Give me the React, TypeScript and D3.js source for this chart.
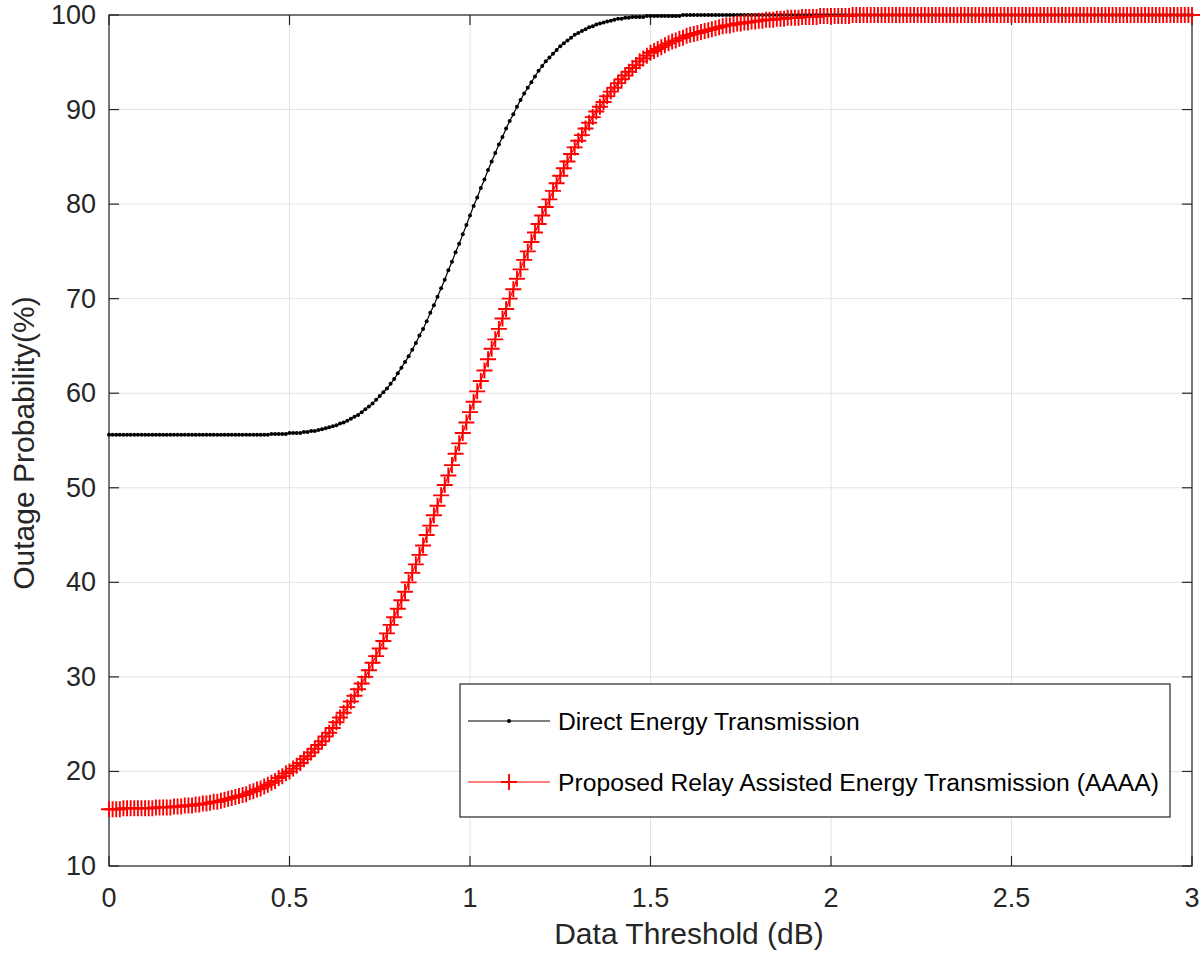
import React from "react";
import * as d3 from "d3";

// Data threshold (dB) sampled every 0.01 from 0 to 3
const X_START = 0;
const X_END = 3;
const X_STEP = 0.01;

const xTicks = [0, 0.5, 1, 1.5, 2, 2.5, 3];
const xTickLabels = ["0", "0.5", "1", "1.5", "2", "2.5", "3"];
const yTicks = [10, 20, 30, 40, 50, 60, 70, 80, 90, 100];
const yTickLabels = ["10", "20", "30", "40", "50", "60", "70", "80", "90", "100"];

const seriesNames = [
  "Direct Energy Transmission",
  "Proposed Relay Assisted Energy Transmission (AAAA)",
];

// Direct Energy Transmission, outage probability (%)
const directValues = [
  55.6, 55.6, 55.6, 55.6, 55.6, 55.6, 55.6, 55.6, 55.6, 55.6,
  55.6, 55.6, 55.6, 55.6, 55.6, 55.6, 55.6, 55.6, 55.6, 55.6,
  55.6, 55.6, 55.6, 55.6, 55.6, 55.6, 55.6, 55.6, 55.6, 55.6,
  55.6, 55.6, 55.6, 55.6, 55.6, 55.6, 55.6, 55.6, 55.6, 55.6,
  55.6, 55.6, 55.6, 55.6, 55.6, 55.7, 55.7, 55.7, 55.7, 55.7,
  55.8, 55.8, 55.8, 55.8, 55.9, 55.9, 56.0, 56.0, 56.1, 56.2,
  56.3, 56.4, 56.5, 56.6, 56.8, 56.9, 57.1, 57.3, 57.5, 57.7,
  58.0, 58.3, 58.6, 58.9, 59.3, 59.7, 60.1, 60.5, 61.0, 61.5,
  62.1, 62.7, 63.3, 63.9, 64.6, 65.3, 66.1, 66.8, 67.6, 68.5,
  69.3, 70.2, 71.1, 72.0, 73.0, 73.9, 74.9, 75.8, 76.8, 77.8,
  78.8, 79.8, 80.7, 81.7, 82.6, 83.6, 84.5, 85.4, 86.3, 87.1,
  88.0, 88.8, 89.5, 90.3, 91.0, 91.7, 92.3, 92.9, 93.5, 94.1,
  94.6, 95.1, 95.5, 95.9, 96.3, 96.7, 97.0, 97.3, 97.6, 97.9,
  98.1, 98.3, 98.5, 98.7, 98.8, 99.0, 99.1, 99.2, 99.3, 99.4,
  99.5, 99.6, 99.6, 99.7, 99.7, 99.8, 99.8, 99.8, 99.8, 99.9,
  99.9, 99.9, 99.9, 99.9, 99.9, 99.9, 99.9, 99.9, 99.9, 100,
  100, 100, 100, 100, 100, 100, 100, 100, 100, 100,
  100, 100, 100, 100, 100, 100, 100, 100, 100, 100,
  100, 100, 100, 100, 100, 100, 100, 100, 100, 100,
  100, 100, 100, 100, 100, 100, 100, 100, 100, 100,
  100, 100, 100, 100, 100, 100, 100, 100, 100, 100,
  100, 100, 100, 100, 100, 100, 100, 100, 100, 100,
  100, 100, 100, 100, 100, 100, 100, 100, 100, 100,
  100, 100, 100, 100, 100, 100, 100, 100, 100, 100,
  100, 100, 100, 100, 100, 100, 100, 100, 100, 100,
  100, 100, 100, 100, 100, 100, 100, 100, 100, 100,
  100, 100, 100, 100, 100, 100, 100, 100, 100, 100,
  100, 100, 100, 100, 100, 100, 100, 100, 100, 100,
  100, 100, 100, 100, 100, 100, 100, 100, 100, 100,
  100, 100, 100, 100, 100, 100, 100, 100, 100, 100,
  100,
];

// Proposed Relay Assisted Energy Transmission (AAAA), outage probability (%)
const relayValues = [
  16.0, 16.0, 16.0, 16.0, 16.1, 16.1, 16.1, 16.1, 16.1, 16.1,
  16.1, 16.1, 16.1, 16.2, 16.2, 16.2, 16.2, 16.2, 16.3, 16.3,
  16.3, 16.4, 16.4, 16.4, 16.5, 16.5, 16.6, 16.6, 16.7, 16.8,
  16.8, 16.9, 17.0, 17.1, 17.2, 17.3, 17.4, 17.5, 17.6, 17.8,
  17.9, 18.1, 18.2, 18.4, 18.6, 18.8, 19.0, 19.3, 19.5, 19.8,
  20.0, 20.3, 20.6, 20.9, 21.3, 21.6, 22.0, 22.4, 22.8, 23.2,
  23.7, 24.1, 24.6, 25.2, 25.7, 26.2, 26.8, 27.4, 28.0, 28.7,
  29.3, 30.0, 30.7, 31.5, 32.2, 33.0, 33.8, 34.6, 35.5, 36.3,
  37.2, 38.1, 39.0, 40.0, 41.0, 41.9, 42.9, 43.9, 45.0, 46.0,
  47.1, 48.1, 49.2, 50.3, 51.3, 52.4, 53.6, 54.7, 55.8, 56.9,
  58.0, 59.1, 60.2, 61.3, 62.4, 63.6, 64.7, 65.7, 66.8, 67.9,
  68.9, 70.0, 71.0, 72.1, 73.1, 74.1, 75.0, 76.0, 77.0, 77.9,
  78.8, 79.7, 80.5, 81.4, 82.2, 83.0, 83.8, 84.5, 85.3, 86.0,
  86.7, 87.3, 88.0, 88.6, 89.2, 89.8, 90.3, 90.8, 91.4, 91.9,
  92.3, 92.8, 93.2, 93.6, 94.0, 94.4, 94.7, 95.1, 95.4, 95.7,
  96.0, 96.2, 96.4, 96.6, 96.8, 97.0, 97.2, 97.3, 97.5, 97.6,
  97.8, 97.9, 98.0, 98.1, 98.2, 98.3, 98.4, 98.5, 98.6, 98.7,
  98.8, 98.9, 98.9, 99.0, 99.1, 99.1, 99.2, 99.2, 99.3, 99.3,
  99.4, 99.4, 99.5, 99.5, 99.5, 99.6, 99.6, 99.6, 99.7, 99.7,
  99.7, 99.7, 99.8, 99.8, 99.8, 99.8, 99.8, 99.9, 99.9, 99.9,
  99.9, 99.9, 99.9, 99.9, 99.9, 99.9, 100, 100, 100, 100,
  100, 100, 100, 100, 100, 100, 100, 100, 100, 100,
  100, 100, 100, 100, 100, 100, 100, 100, 100, 100,
  100, 100, 100, 100, 100, 100, 100, 100, 100, 100,
  100, 100, 100, 100, 100, 100, 100, 100, 100, 100,
  100, 100, 100, 100, 100, 100, 100, 100, 100, 100,
  100, 100, 100, 100, 100, 100, 100, 100, 100, 100,
  100, 100, 100, 100, 100, 100, 100, 100, 100, 100,
  100, 100, 100, 100, 100, 100, 100, 100, 100, 100,
  100, 100, 100, 100, 100, 100, 100, 100, 100, 100,
  100,
];

const W = 1202;
const H = 953;
const M = { left: 109, top: 15, right: 1192, bottom: 866 };
const FONT = "'Liberation Sans', Arial, Helvetica, sans-serif";
const AXIS = "#262626";
const GRID = "#e3e3e3";

export default function App() {
  const thresholds = d3.range(0, directValues.length).map((i) => +(X_START + i * X_STEP).toFixed(2));
  const x = d3.scaleLinear().domain([X_START, X_END]).range([M.left, M.right]);
  const y = d3.scaleLinear().domain([10, 100]).range([M.bottom, M.top]);
  const line = d3
    .line<number>()
    .x((_, i) => x(thresholds[i]))
    .y((d) => y(d));

  const tickLen = 10;
  const plusR = 8;

  return (
    <svg
      width={W}
      height={H}
      style={{ position: "absolute", left: 0, top: 0, background: "#fff" }}
      fontFamily={FONT}
    >
      <rect x={0} y={0} width={W} height={H} fill="#fff" />
      {/* grid */}
      <g stroke={GRID} strokeWidth={1}>
        {xTicks.map((t) => (
          <line key={"gx" + t} x1={x(t)} x2={x(t)} y1={M.top} y2={M.bottom} />
        ))}
        {yTicks.map((t) => (
          <line key={"gy" + t} x1={M.left} x2={M.right} y1={y(t)} y2={y(t)} />
        ))}
      </g>
      {/* axes box and ticks */}
      <g stroke={AXIS} strokeWidth={1.2} fill="none">
        <rect x={M.left} y={M.top} width={M.right - M.left} height={M.bottom - M.top} />
        {xTicks.map((t) => (
          <g key={"tx" + t}>
            <line x1={x(t)} x2={x(t)} y1={M.bottom} y2={M.bottom - tickLen} />
            <line x1={x(t)} x2={x(t)} y1={M.top} y2={M.top + tickLen} />
          </g>
        ))}
        {yTicks.map((t) => (
          <g key={"ty" + t}>
            <line x1={M.left} x2={M.left + tickLen} y1={y(t)} y2={y(t)} />
            <line x1={M.right} x2={M.right - tickLen} y1={y(t)} y2={y(t)} />
          </g>
        ))}
      </g>
      {/* tick labels */}
      <g fill={AXIS} fontSize={27}>
        {xTicks.map((t, i) => (
          <text key={"lx" + t} x={x(t)} y={907} textAnchor="middle">
            {xTickLabels[i]}
          </text>
        ))}
        {yTicks.map((t, i) => (
          <text key={"ly" + t} x={96} y={y(t)} textAnchor="end" dominantBaseline="central">
            {yTickLabels[i]}
          </text>
        ))}
      </g>
      {/* axis labels */}
      <text x={689} y={944} textAnchor="middle" fontSize={30} fill={AXIS}>
        Data Threshold (dB)
      </text>
      <text
        transform={`translate(34, 443) rotate(-90)`}
        textAnchor="middle"
        fontSize={30}
        fill={AXIS}
      >
        Outage Probability(%)
      </text>
      {/* direct series */}
      <path d={line(directValues) || ""} fill="none" stroke="#000" strokeWidth={1.2} />
      <g fill="#000">
        {directValues.map((v, i) => (
          <circle key={"d" + i} cx={x(thresholds[i])} cy={y(v)} r={2} />
        ))}
      </g>
      {/* relay series */}
      <path d={line(relayValues) || ""} fill="none" stroke="#ff0000" strokeWidth={1.2} />
      <g stroke="#ff0000" strokeWidth={1.9}>
        {relayValues.map((v, i) => {
          const cx = x(thresholds[i]);
          const cy = y(v);
          return (
            <path
              key={"r" + i}
              d={`M${cx - plusR},${cy}H${cx + plusR}M${cx},${cy - plusR}V${cy + plusR}`}
            />
          );
        })}
      </g>
      {/* legend */}
      <g>
        <rect x={460} y={684} width={710} height={133} fill="#fff" stroke={AXIS} strokeWidth={1.2} />
        <line x1={468} x2={550} y1={721} y2={721} stroke="#000" strokeWidth={1.2} />
        <circle cx={509} cy={721} r={2} fill="#000" />
        <text x={558} y={721} fontSize={24.7} dominantBaseline="central" fill="#000">
          {seriesNames[0]}
        </text>
        <line x1={468} x2={550} y1={782} y2={782} stroke="#ff0000" strokeWidth={1.2} />
        <path d={`M${509 - plusR},782H${509 + plusR}M509,${782 - plusR}V${782 + plusR}`} stroke="#ff0000" strokeWidth={1.9} />
        <text x={558} y={782} fontSize={24.7} dominantBaseline="central" fill="#000">
          {seriesNames[1]}
        </text>
      </g>
    </svg>
  );
}
